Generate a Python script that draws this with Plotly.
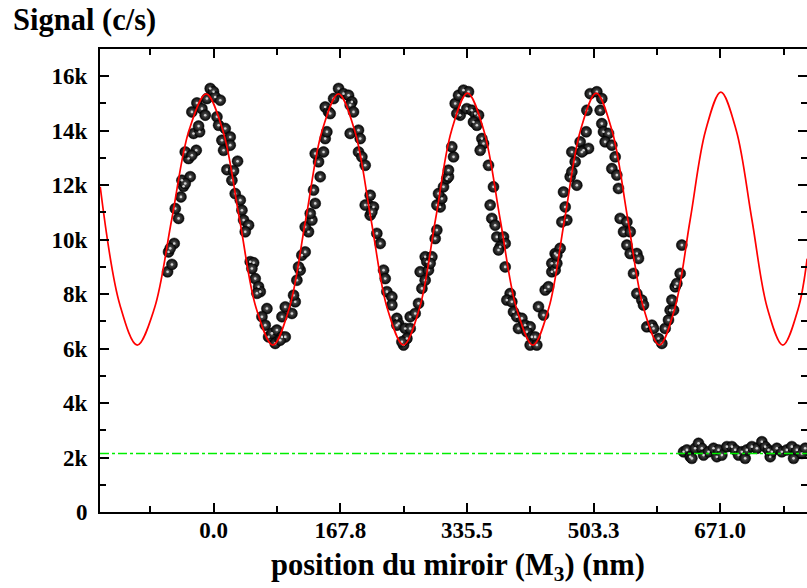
import plotly.graph_objects as go

# ---------------- data ----------------
# measured signal (oscillating part): mirror position (nm), counts per second
sig_x = [
    -61.0, -55.2, -59.7, -52.2, -57.5, -46.4, -50.8, -43.3, -39.8, -42.0, -31.0, -37.6,
    -33.2, -37.6, -23.0, -28.8, -26.6, -18.6, -19.9, -28.8, -22.1, -15.5, -11.1, -4.5,
    -0.1, -8.9, 2.1, 8.8, 4.4, 6.6, 15.4, 11.0, 22.0, 13.2, 22.0, 31.7, 17.6, 26.4,
    24.2, 28.6, 35.3, 37.5, 39.7, 46.3, 41.9, 48.5, 53.0, 50.7, 55.1, 59.5, 61.8, 57.3,
    70.6, 64.0, 68.4, 72.8, 77.2, 83.8, 81.6, 90.5, 94.9, 88.2, 90.5, 94.9,
    103.7, 108.1, 105.9, 110.3, 114.7, 112.5, 116.9, 121.3, 125.7, 121.3, 130.2, 128.0,
    134.6, 132.4, 141.2, 139.0, 134.6, 145.6, 147.8, 150.0, 147.8, 152.2, 154.4, 158.9,
    165.5, 172.1, 178.7, 183.1, 180.9, 185.3, 180.9, 191.9, 194.2, 191.9, 196.4, 200.8,
    207.4, 205.2, 200.8, 211.8, 207.4, 209.6, 216.2, 220.7, 225.1, 227.3, 229.5, 236.1,
    236.1, 242.7, 245.0, 242.7, 253.8, 260.4, 256.0, 251.6, 249.4, 260.4, 267.0, 271.4,
    275.9, 273.6, 280.3,
    280.2, 284.6, 282.4, 289.1, 286.8, 293.5, 295.7, 300.1, 295.7, 302.3, 297.9, 304.5,
    308.9, 311.1, 311.1, 317.8, 315.5, 320.0, 324.4, 331.0, 337.6, 326.6, 322.2, 335.4,
    342.0, 346.4, 350.9, 344.2, 348.7, 355.3, 357.5, 353.1, 364.1, 370.7, 366.3, 368.5,
    372.9, 375.1, 384.0, 386.2, 379.6, 377.4, 386.2, 392.8, 388.4, 395.0, 397.2, 401.6,
    408.3, 403.8, 412.7, 419.3, 414.9, 421.5, 425.9, 419.3, 428.1, 430.3, 437.0, 439.2,
    443.6, 448.0, 448.0, 452.4,
    452.4, 454.6, 459.0, 454.6, 467.9, 461.3, 465.7, 463.5, 481.1, 472.3, 474.5, 478.9,
    474.5, 485.5, 490.0, 496.6, 487.7, 493.5, 494.4, 498.8, 507.6, 514.2, 512.0, 514.2,
    516.4, 523.1, 518.6, 527.5, 531.9, 527.5, 534.1, 536.3, 538.5, 547.4, 543.0, 551.8,
    547.4, 551.8, 560.6, 562.8, 556.2, 560.6, 567.2, 569.4, 573.8, 580.5, 582.7, 589.3,
    593.7, 598.1, 602.5, 604.7, 609.2, 607.0, 611.4, 613.6, 618.0, 620.2,
]
sig_y = [
    8820, 9090, 9550, 9860, 9680, 10780, 11140, 11570, 11960, 12180, 12310, 12060,
    12980, 13220, 13280, 13100, 13900, 13960, 14170, 14690, 15020, 14810, 14570, 15550,
    15430, 15180, 15240, 15120, 14510, 14200, 14080, 13650, 13770, 13280, 13470, 12880, 12570, 12530,
    12180, 11690, 11450, 11080, 10720, 10530, 10290, 9190, 9150, 8940, 8570, 8270, 8090, 8030,
    7470, 7170, 6860, 6430, 6560, 6680, 6190, 6430, 6430, 6310, 7170, 7530,
    7290, 7720, 7960, 8510, 8880, 9000, 9430, 9550, 10290, 10470, 10720, 10960,
    11330, 11820, 12310, 12860, 13160, 13220, 13710, 13960, 14870, 14690, 14630, 15180,
    15550, 15360, 15300, 15060, 14940, 14690, 13900, 14020, 13710, 13220, 13040, 12730,
    11630, 11270, 11270, 11200, 10900, 11020, 10230, 9860, 8880, 8570, 8090, 7900,
    7600, 7110, 6920, 6860, 6740, 6740, 6370, 6130, 6250, 7170, 7290, 7660,
    8210, 8820, 9370,
    8510, 8880, 9190, 9370, 9130, 10040, 10350, 11200, 11270, 11510, 11690, 11940,
    12240, 12310, 12550, 13040, 13410, 15000, 15300, 15490, 15430, 14570, 14630, 14810,
    14750, 14630, 14570, 14320, 14200, 13710, 13530, 13280, 12730, 11940, 11270, 10780,
    10530, 10100, 10100, 9860, 9740, 9620, 9000, 8020, 7780, 7720, 7350, 7170,
    7110, 6740, 6860, 6800, 6620, 6430, 6430, 6130, 6130, 7540, 7230, 8150,
    8270, 8820, 9130, 9490,
    8880, 9130, 9680, 9430, 10720, 10650, 11200, 11750, 12000, 12310, 12490, 12860,
    13220, 13590, 13280, 13350, 13220, 13960, 14750, 15360, 15430, 15180, 14750, 14260,
    13960, 13900, 13590, 13470, 13040, 12610, 12370, 11880, 10780, 10650, 10290, 10290,
    9800, 9490, 9490, 9310, 8760, 8020, 7780, 7600, 6800, 6860, 6740, 6370,
    6190, 6740, 7050, 7410, 7410, 7780, 8270, 8390, 8760, 9800,
]

# background signal (beam blocked)
bg_x = [622.5, 626.9, 631.3, 633.5, 637.9, 642.3, 646.7, 649.0, 655.6, 662.2, 666.6, 668.8,
        673.2, 679.9, 686.5, 690.9, 695.3, 699.7, 704.1, 706.3, 713.0, 719.6, 726.2, 730.6,
        735.0, 737.3, 739.5, 746.1, 752.7, 759.3, 765.9, 768.2, 772.6, 779.2, 783.6]
bg_y = [2210, 2280, 2030, 1970, 2340, 2520, 2340, 2090, 2210, 2340, 2030, 2280,
        2090, 2400, 2400, 2280, 2090, 2210, 1970, 2280, 2400, 2340, 2580, 2400,
        2280, 2030, 2210, 2340, 2210, 2280, 2400, 1970, 2280, 2150, 2340]

# fitted sinusoid
fit_x = [-150.2, -124.1, -101.2, -78.4, -55.5, -32.7, -9.8, 12.3, 34.4, 56.4, 78.5,
         100.2, 122.0, 143.7, 165.4, 186.9, 208.5, 230.0, 251.5, 272.7, 293.9, 315.1,
         336.3, 358.0, 379.6, 401.2, 422.9, 443.9, 464.9, 485.8, 506.8, 527.8, 548.7,
         569.6, 590.6, 610.9, 631.3, 651.6, 671.9, 692.4, 713.0, 733.5, 754.0, 774.5, 786.2]
fit_y = [11940, 7600, 6130, 7480, 10740, 14000, 15350, 14000, 10740, 7480, 6130,
         7480, 10740, 14000, 15350, 14000, 10740, 7480, 6130, 7480, 10740, 14000,
         15380, 14000, 10740, 7480, 6130, 7480, 10740, 14000, 15380, 14000, 10740,
         7480, 6130, 7480, 10740, 14000, 15420, 14000, 10740, 7480, 6130, 7480, 9300]

# background level (green dash-dot line)
bg_level_x = [-150.5, 786.0]
bg_level_y = [2150, 2150]

x_range = [-150.5, 786.0]
y_range = [0, 17000]
x_tickvals = [0.0, 167.75, 335.5, 503.25, 671.0]
x_ticktext = ["0.0", "167.8", "335.5", "503.3", "671.0"]
x_minor = [-83.875, 83.875, 251.625, 419.375, 587.125, 754.875]
y_tickvals = [0, 2000, 4000, 6000, 8000, 10000, 12000, 14000, 16000]
y_ticktext = ["0", "2k", "4k", "6k", "8k", "10k", "12k", "14k", "16k"]
y_minor = [1000, 3000, 5000, 7000, 9000, 11000, 13000, 15000]

# ---------------- figure ----------------
FONT = "Liberation Serif"
ball = dict(size=11, color="#050505", symbol="circle",
            gradient=dict(type="radial", color="#5e5e5e"),
            line=dict(width=0.5, color="black"))
shine = dict(size=2.6, color="#d0d0d0", symbol="circle", line=dict(width=0))

fig = go.Figure()
for xs, ys in ((sig_x, sig_y), (bg_x, bg_y)):
    fig.add_trace(go.Scatter(x=xs, y=ys, mode="markers", marker=ball, showlegend=False,
                             hoverinfo="skip"))
    fig.add_trace(go.Scatter(x=xs, y=ys, mode="markers", marker=shine, showlegend=False,
                             hoverinfo="skip"))
fig.add_trace(go.Scatter(x=fit_x, y=fit_y, mode="lines",
                         line=dict(color="#ff0000", width=1.7, shape="spline"), showlegend=False))
fig.add_trace(go.Scatter(x=bg_level_x, y=bg_level_y, mode="lines",
                         line=dict(color="#00ee00", width=1.6, dash="dashdot"), showlegend=False))

axis_common = dict(showline=True, linewidth=2, linecolor="black", mirror="allticks",
                   ticks="inside", ticklen=9, tickwidth=2, tickcolor="black",
                   showgrid=False, zeroline=False, automargin=False,
                   tickfont=dict(family=FONT, size=23, color="black", weight="bold"))

fig.update_xaxes(range=x_range, tickmode="array", tickvals=x_tickvals, ticktext=x_ticktext,
                 minor=dict(tickmode="array", tickvals=x_minor, ticks="inside", ticklen=6,
                            tickwidth=2, tickcolor="black", showgrid=False),
                 ticklabelstandoff=-4, **axis_common)
fig.update_yaxes(range=y_range, tickmode="array", tickvals=y_tickvals, ticktext=y_ticktext,
                 minor=dict(tickmode="array", tickvals=y_minor, ticks="inside", ticklen=6,
                            tickwidth=2, tickcolor="black", showgrid=False),
                 ticklabelstandoff=6, **axis_common)

fig.add_annotation(text="<b>Signal (c/s)</b>", xref="paper", yref="paper",
                   x=-0.1259, y=1.0626, xanchor="left", yanchor="middle", showarrow=False,
                   font=dict(family=FONT, size=30.5, color="black"))
fig.add_annotation(text="<b>position du miroir (M<sub>3</sub>) (nm)</b>", xref="paper", yref="paper",
                   x=0.506, y=-0.1188, xanchor="center", yanchor="middle", showarrow=False,
                   font=dict(family=FONT, size=30.5, color="black"))

fig.update_layout(width=807, height=588, margin=dict(l=100, r=0, t=49, b=76, autoexpand=False),
                  paper_bgcolor="white", plot_bgcolor="white")

# remove the default page margin so the figure fills the 807x588 window exactly
fig.write_html("out.html", config={"displayModeBar": False},
               post_script="document.body.style.margin='0px';"
                           "document.documentElement.style.overflow='hidden';")
